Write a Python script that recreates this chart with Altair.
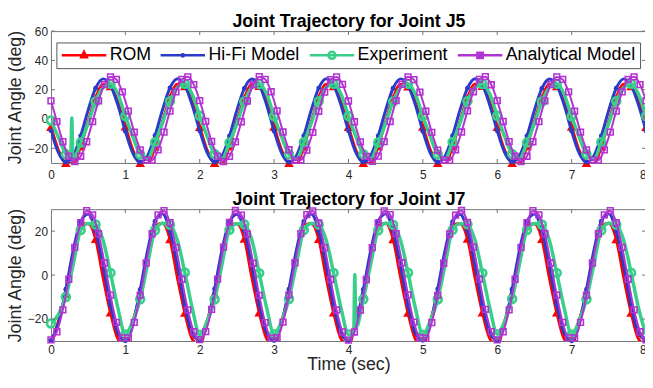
import altair as alt
import pandas as pd

FONT = "Liberation Sans"
RED, BLUE, GREEN, PURPLE = "#ff0000", "#2b3ac9", "#38cf8a", "#b232d2"
FRAME = "#737373"
TXT = "#262626"
NAMES = ["ROM", "Hi-Fi Model", "Experiment", "Analytical Model"]
W, H = 602.5, 133.5

# time grids (seconds)
T10 = [round(i * 0.1, 1) for i in range(81)]
T08 = [round(i * 0.08, 2) for i in range(101)]

# ---------------- Joint J5 (deg) ----------------
j5_rom = [
    -5.3, -21.3, -30.0, -30.5, -18.5, -1.7, 14.3, 23.6, 22.5, 11.5,
    -5.0, -21.0, -30.0, -30.4, -18.8, -1.9, 14.5, 23.8, 22.4, 11.2,
    -5.4, -21.4, -30.0, -30.6, -18.4, -1.5, 14.2, 23.5, 22.6, 11.6,
    -5.1, -21.2, -30.0, -30.5, -18.6, -1.8, 14.4, 23.7, 22.5, 11.4,
    -5.3, -21.3, -30.0, -30.4, -18.5, -1.6, 14.3, 23.6, 22.3, 11.3,
    -5.2, -21.1, -30.0, -30.5, -18.7, -1.8, 14.5, 23.8, 22.6, 11.5,
    -5.4, -21.4, -30.0, -30.6, -18.4, -1.6, 14.2, 23.5, 22.4, 11.4,
    -5.2, -21.2, -30.0, -30.5, -18.6, -1.7, 14.4, 23.7, 22.5, 11.5,
    -5.3]
j5_hifi = [
    -8.1, -23.0, -29.4, -25.1, -11.5, 6.1, 21.0, 27.4, 23.1, 9.5,
    -8.3, -23.2, -29.5, -25.0, -11.3, 6.3, 21.2, 27.5, 23.0, 9.3,
    -8.0, -22.9, -29.3, -25.2, -11.6, 6.0, 20.9, 27.3, 23.2, 9.6,
    -8.2, -23.1, -29.5, -25.1, -11.4, 6.2, 21.1, 27.5, 23.1, 9.4,
    -8.1, -23.0, -29.4, -25.0, -11.5, 6.1, 21.0, 27.4, 23.0, 9.5,
    -8.3, -23.2, -29.5, -25.2, -11.4, 6.2, 21.1, 27.5, 23.2, 9.4,
    -8.0, -22.9, -29.3, -25.1, -11.6, 6.0, 20.9, 27.3, 23.1, 9.6,
    -8.2, -23.1, -29.4, -25.1, -11.5, 6.1, 21.0, 27.4, 23.1, 9.5,
    -8.1]
j5_exp = [
    -1.0, -12.5, -24.0, -27.0, -16.0, -3.0, 12.0, 21.5, 24.0, 17.0,
    2.0, -12.0, -24.2, -27.1, -15.8, -2.8, 12.2, 21.6, 24.1, 16.8,
    2.2, -11.8, -23.9, -27.0, -16.1, -3.1, 11.9, 21.4, 23.9, 17.1,
    1.9, -12.1, -24.1, -27.2, -15.9, -2.9, 12.1, 21.5, 24.0, 17.0,
    2.1, -12.0, -24.0, -27.0, -16.0, -3.0, 12.0, 21.6, 24.1, 16.9,
    2.0, -11.9, -24.2, -27.1, -15.8, -2.9, 12.2, 21.5, 23.9, 17.1,
    2.2, -12.1, -23.9, -27.0, -16.1, -3.1, 11.9, 21.4, 24.0, 17.0,
    1.9, -12.0, -24.1, -27.1, -15.9, -3.0, 12.1, 21.5, 24.1, 16.9,
    2.0]
j5_exp_glitch_t = [0.265, 0.28, 0.295]
j5_exp_glitch_v = [-26.6, 0.7, -26.9]
j5_ana = [
    12.4, -1.8, -15.5, -25.4, -29.0, -25.4, -15.5, -1.8, 12.4, 23.5, 28.8, 27.0, 18.5,
    5.4, -9.0, -21.1, -28.1, -28.1, -21.1, -9.0, 5.4, 18.5, 27.0, 28.8, 23.5,
    12.6, -1.6, -15.3, -25.3, -29.0, -25.5, -15.6, -1.9, 12.3, 23.4, 28.9, 27.1, 18.6,
    5.5, -8.9, -21.0, -28.2, -28.0, -21.2, -9.1, 5.3, 18.4, 26.9, 28.7, 23.6,
    12.3, -1.9, -15.6, -25.5, -28.9, -25.3, -15.4, -1.7, 12.5, 23.6, 28.8, 26.9, 18.4,
    5.3, -9.1, -21.2, -28.0, -28.2, -21.0, -8.9, 5.5, 18.6, 27.1, 28.9, 23.4,
    12.5, -1.7, -15.4, -25.4, -29.0, -25.4, -15.5, -1.8, 12.4, 23.5, 28.7, 27.0, 18.5,
    5.4, -9.0, -21.1, -28.1, -28.1, -21.1, -9.0, 5.4, 18.5, 27.0, 28.8, 23.5,
    12.4]

# ---------------- Joint J7 (deg) ----------------
j7_rom = [
    -32.0, -21.0, -8.5, 9.0, 22.5, 23.5, 16.5, -1.0, -17.0, -29.0,
    -32.2, -21.2, -8.6, 9.2, 22.4, 23.6, 16.4, -1.2, -17.1, -29.1,
    -31.9, -20.9, -8.4, 8.9, 22.6, 23.4, 16.6, -0.9, -16.9, -28.9,
    -32.1, -21.1, -8.5, 9.1, 22.5, 23.5, 16.5, -1.1, -17.0, -29.0,
    -32.0, -21.0, -8.6, 9.0, 22.4, 23.6, 16.4, -1.0, -17.1, -29.1,
    -32.1, -21.1, -8.4, 9.1, 22.6, 23.5, 16.6, -0.9, -16.9, -28.9,
    -32.0, -21.0, -8.5, 9.0, 22.5, 23.4, 16.5, -1.1, -17.0, -29.0,
    -31.9, -20.9, -8.6, 8.9, 22.4, 23.6, 16.4, -1.0, -17.1, -29.1,
    -32.0]
j7_hifi = [
    -29.8, -22.1, -6.4, 11.4, 24.4, 27.8, 20.1, 4.4, -13.4, -26.4,
    -29.9, -22.3, -6.5, 11.3, 24.5, 27.9, 20.0, 4.3, -13.5, -26.5,
    -29.7, -22.0, -6.3, 11.5, 24.3, 27.7, 20.2, 4.5, -13.3, -26.3,
    -29.8, -22.2, -6.4, 11.4, 24.4, 27.8, 20.1, 4.4, -13.4, -26.4,
    -29.9, -22.1, -6.5, 11.3, 24.5, 27.9, 20.0, 4.3, -13.5, -26.5,
    -29.7, -22.0, -6.3, 11.5, 24.3, 27.7, 20.2, 4.5, -13.3, -26.3,
    -29.8, -22.2, -6.4, 11.4, 24.4, 27.8, 20.1, 4.4, -13.4, -26.4,
    -29.9, -22.1, -6.5, 11.3, 24.5, 27.9, 20.0, 4.3, -13.5, -26.5,
    -29.8]
j7_exp = [
    -22.0, -18.0, -10.0, 5.0, 20.5, 23.5, 23.0, 16.0, 1.0, -15.0,
    -27.0, -21.0, -11.0, 5.1, 20.4, 23.6, 22.9, 15.8, 1.2, -15.1,
    -27.1, -20.9, -11.1, 4.9, 20.6, 23.4, 23.1, 16.1, 0.9, -14.9,
    -26.9, -21.1, -10.9, 5.0, 20.5, 23.5, 23.0, 16.0, 1.0, -15.0,
    -27.0, -24.0, -11.0, 5.1, 20.4, 23.6, 22.9, 15.9, 1.1, -15.1,
    -27.1, -20.9, -11.1, 4.9, 20.6, 23.4, 23.1, 16.1, 0.9, -14.9,
    -26.9, -21.1, -10.9, 5.0, 20.5, 23.5, 23.0, 16.0, 1.0, -15.0,
    -27.0, -21.0, -11.0, 5.1, 20.4, 23.6, 22.9, 15.9, 1.1, -15.1,
    -27.0]
j7_exp_glitch_t = [4.07, 4.085]
j7_exp_glitch_v = [-27.2, 0.3]
j7_ana = [
    -29.5, -25.8, -15.8, -1.9, 12.6, 23.9, 29.3, 27.4, 18.8, 5.5, -9.1, -21.5, -28.6,
    -28.6, -21.5, -9.1, 5.5, 18.8, 27.4, 29.3, 23.9, 12.6, -1.9, -15.8, -25.8,
    -29.4, -25.7, -15.6, -1.8, 12.7, 24.0, 29.4, 27.3, 18.7, 5.4, -9.2, -21.6, -28.7,
    -28.5, -21.4, -9.0, 5.6, 18.9, 27.5, 29.2, 23.8, 12.5, -2.0, -15.9, -25.9,
    -29.6, -25.9, -15.9, -2.0, 12.5, 23.8, 29.2, 27.5, 18.9, 5.6, -9.0, -21.4, -28.5,
    -28.7, -21.6, -9.2, 5.4, 18.7, 27.3, 29.4, 24.0, 12.7, -1.8, -15.6, -25.7,
    -29.5, -25.8, -15.8, -1.9, 12.6, 23.9, 29.3, 27.4, 18.8, 5.5, -9.1, -21.5, -28.6,
    -28.6, -21.5, -9.1, 5.5, 18.8, 27.4, 29.3, 23.9, 12.6, -1.9, -15.8, -25.8,
    -29.5]

XTICKS = list(range(9))
XTICKS_INNER = list(range(1, 8))


def build(rom, hifi, exp, ana, gt, gv):
    rows = []
    for name, vals in (("ROM", rom), ("Hi-Fi Model", hifi), ("Experiment", exp)):
        for i, (t, v) in enumerate(zip(T10, vals)):
            rows.append({"series": name, "t": t, "v": v, "marker": i % 2 == 0})
    for t, v in zip(gt, gv):
        rows.append({"series": "Experiment", "t": t, "v": v, "marker": False})
    for t, v in zip(T08, ana):
        rows.append({"series": "Analytical Model", "t": t, "v": v, "marker": True})
    return pd.DataFrame(rows)


df5 = build(j5_rom, j5_hifi, j5_exp, j5_ana, j5_exp_glitch_t, j5_exp_glitch_v)
df7 = build(j7_rom, j7_hifi, j7_exp, j7_ana, j7_exp_glitch_t, j7_exp_glitch_v)

# legend symbols: line segment with the series marker in its middle (path units, 7.5 px each)
LEG_PATHS = [
    "M-1,0H5M2,-0.45L2.36,0.27L1.64,0.27ZM2,-0.3V0.2",
    "M-1,0H5M1.85,0A0.15,0.15 0 1,0 2.15,0A0.15,0.15 0 1,0 1.85,0Z",
    "M-1,0H5M1.53,0A0.47,0.47 0 1,0 2.47,0A0.47,0.47 0 1,0 1.53,0Z",
    "M-1,0H5M1.65,-0.35H2.35V0.35H1.65Z",
]


def panel(df, title, ydom, yticks, xtitle, with_legend, label_pad, title_pad):
    xs = alt.Scale(domain=[0, 8], nice=False, zero=False)
    ys = alt.Scale(domain=ydom, nice=False, zero=False)
    ymin = ydom[0]

    ax_x = alt.Axis(orient="bottom", values=XTICKS, ticks=False, tickSize=0, domain=False, grid=False,
                    labelFont=FONT, labelFontSize=12, labelColor=TXT, labelPadding=label_pad,
                    labelAlign={"expr": "datum.value == 8 ? 'right' : 'center'"},
                    title=xtitle, titleFont=FONT, titleFontSize=18, titleFontWeight="normal",
                    titleColor=TXT, titlePadding=title_pad)
    ax_title = alt.Axis(orient="top", labels=False, ticks=False, tickSize=0, domain=False, grid=False,
                        title=title, titleFont=FONT, titleFontSize=18, titleFontWeight="bold",
                        titleColor="black", titlePadding=4.4, titleBaseline="alphabetic",
                        titleAnchor="middle", minExtent=0, maxExtent=0)
    ax_y = alt.Axis(orient="left", values=yticks, ticks=False, tickSize=0, domain=False, grid=False,
                    labelFont=FONT, labelFontSize=12, labelColor=TXT, labelPadding=3.5,
                    title="Joint Angle (deg)", titleFont=FONT, titleFontSize=18,
                    titleFontWeight="normal", titleColor=TXT, titlePadding=2.5)

    def enc(xax=None, yax=None):
        return dict(x=alt.X("t:Q", scale=xs, axis=xax), y=alt.Y("v:Q", scale=ys, axis=yax))

    base = alt.Chart(df)
    layers = []
    for k, (name, color, lw, shape, filled, size, sw) in enumerate([
        ("ROM", RED, 3, "triangle-up", True, 95, 1),
        ("Hi-Fi Model", BLUE, 3, "circle", True, 25, 1),
        ("Experiment", GREEN, 3.5, "circle", False, 64, 2.6),
        ("Analytical Model", PURPLE, 2, "square", False, 34, 1.6),
    ]):
        layers.append(
            base.transform_filter(f"datum.series == '{name}'")
            .mark_line(color=color, strokeWidth=lw, clip=True, interpolate="monotone")
            .encode(**(enc(ax_x, ax_y) if k == 0 else enc())))
        layers.append(
            base.transform_filter(f"datum.series == '{name}' && datum.marker && datum.v >= {ymin}")
            .mark_point(shape=shape, filled=filled, color=color, size=size, strokeWidth=sw, opacity=1)
            .encode(**(enc(ax_title, None) if k == 0 else enc())))

    # inward tick marks on all four sides (MATLAB box style)
    xt = alt.Chart(pd.DataFrame({"xt": XTICKS_INNER}))
    yt = alt.Chart(pd.DataFrame({"yt": yticks}))
    tick = dict(color=FRAME, strokeWidth=1)
    layers += [
        xt.mark_rule(**tick).encode(x=alt.X("xt:Q", scale=xs, axis=None), y=alt.value(0), y2=alt.value(4)),
        xt.mark_rule(**tick).encode(x=alt.X("xt:Q", scale=xs, axis=None), y=alt.value(H - 4), y2=alt.value(H)),
        yt.mark_rule(**tick).encode(y=alt.Y("yt:Q", scale=ys, axis=None), x=alt.value(0), x2=alt.value(4)),
        yt.mark_rule(**tick).encode(y=alt.Y("yt:Q", scale=ys, axis=None), x=alt.value(W - 4), x2=alt.value(W)),
    ]

    if with_legend:
        leg = alt.Legend(title=None, orient="none", legendX=5.5, legendY=11.5, direction="horizontal",
                         labelFont=FONT, labelFontSize=18, labelColor="black", labelOffset=32,
                         labelLimit=0, columnPadding=4, padding=4, symbolSize=225,
                         symbolStrokeWidth=2.6, strokeColor="#555555", fillColor="white",
                         cornerRadius=0, symbolOpacity=1)
        layers.append(
            base.transform_filter("false")
            .mark_point(filled=False, strokeWidth=2.6, opacity=1)
            .encode(**enc(),
                    color=alt.Color("series:N", scale=alt.Scale(domain=NAMES, range=[RED, BLUE, GREEN, PURPLE]), legend=leg),
                    shape=alt.Shape("series:N", scale=alt.Scale(domain=NAMES, range=LEG_PATHS), legend=leg))
        )
    return alt.layer(*layers).resolve_axis(x="independent", y="independent").properties(width=W, height=H)


top = panel(df5, "Joint Trajectory for Joint J5", [-30, 60], [-20, 0, 20, 40, 60], None, True, 6.5, 3)
bottom = panel(df7, "Joint Trajectory for Joint J7", [-30, 30], [-20, 0, 20], "Time (sec)", False, 4, 0)

chart = (
    alt.vconcat(top, bottom, spacing=46.3, bounds="flush")
    .resolve_scale(x="independent", y="independent", color="independent", shape="independent")
    .resolve_legend(color="independent", shape="independent")
    .properties(padding={"left": -1.5, "top": 2.1, "right": -11, "bottom": -2.5})
    .configure(font=FONT)
    .configure_view(stroke=FRAME, strokeWidth=1)
)

chart.save("out.html", embed_options={"renderer": "svg", "actions": False})
